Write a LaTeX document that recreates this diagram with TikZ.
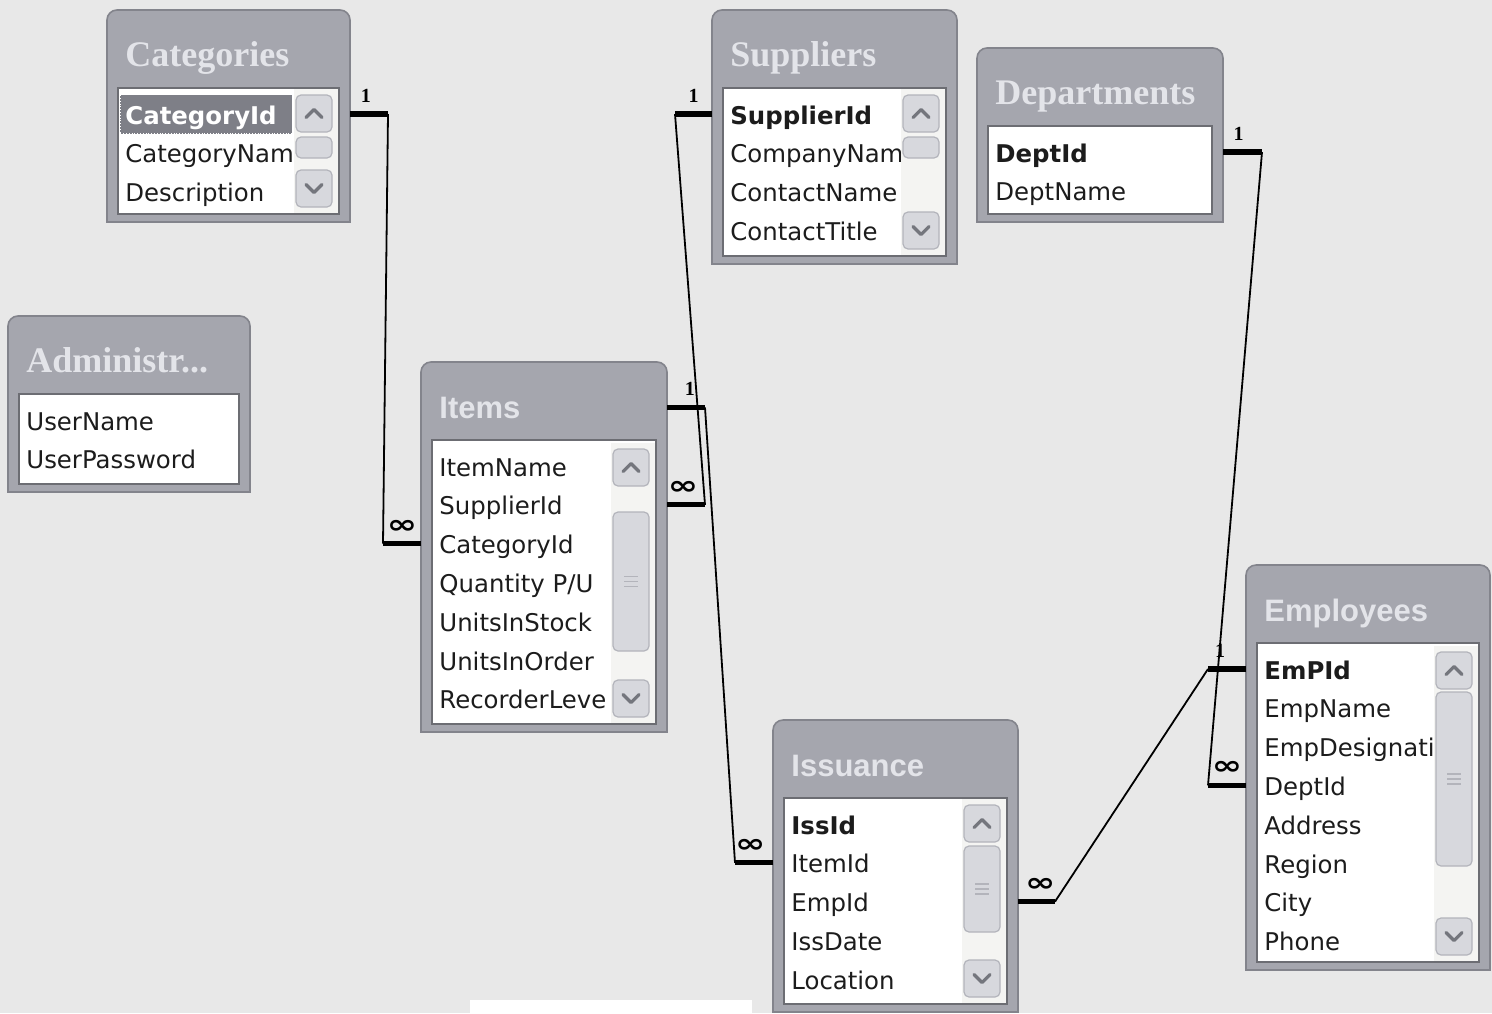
\documentclass[tikz,border=0pt]{standalone}
\usepackage{fontspec}
\usepackage{graphicx}
\usepackage{tikz}
\usetikzlibrary{positioning,fit}
\setmainfont{DejaVu Sans}
\newfontfamily\headserif{Liberation Serif}
\newfontfamily\headsans{Liberation Sans}

\definecolor{canvas}{HTML}{E8E8E8}
\definecolor{frame}{HTML}{A5A6AE}
\definecolor{frameline}{HTML}{83848C}
\definecolor{listline}{HTML}{6C6D73}
\definecolor{captext}{HTML}{E3E4E9}
\definecolor{fieldtext}{HTML}{1C1C1C}
\definecolor{selgray}{HTML}{7E7F87}
\definecolor{trackfill}{HTML}{F4F4F2}
\definecolor{btnfill}{HTML}{D7D8DD}
\definecolor{btnline}{HTML}{B3B4BB}
\definecolor{chevcol}{HTML}{74767D}

\tikzset{
  tableframe/.style={draw=frameline, fill=frame, line width=0.8pt, rounded corners=5pt, inner sep=0pt, outer sep=0pt},
  listbox/.style={draw=listline, fill=white, line width=0.7pt, inner sep=0pt},
  caption/.style={anchor=base west, inner sep=0pt, text=captext},
  serifcap/.style={caption, font=\headserif\bfseries\fontsize{18pt}{20pt}\selectfont},
  sanscap/.style={caption, font=\headsans\bfseries\fontsize{15.5pt}{18pt}\selectfont},
  field/.style={anchor=west, inner sep=0pt, text height=10pt, text depth=0pt, text=fieldtext,
    font=\fontsize{12.2pt}{14pt}\selectfont},
  attr/.style={},
  pkey/.style={font=\bfseries\fontsize{12.2pt}{14pt}\selectfont},
  pkeysel/.style={pkey, fill=selgray, draw=white, densely dotted, text=white, text width=81pt,
    inner xsep=2.5pt, minimum height=19.5pt, xshift=-2.5pt},
  track/.style={fill=trackfill},
  sbutton/.style={draw=btnline, fill=btnfill, rounded corners=2.5pt, inner sep=0pt, line width=0.6pt},
  chevron/.style={draw=chevcol, line width=1.6pt, line cap=round, line join=round},
  grip/.style={draw=btnline, line width=0.6pt},
  rel/.style={draw=black, line width=0.9pt},
  stub/.style={draw=black, line width=2.6pt},
  one/.style={font=\headserif\bfseries\fontsize{10pt}{10pt}\selectfont, inner sep=1pt, above=3.5pt},
  many/.style={font=\bfseries\fontsize{13pt}{13pt}\selectfont, inner sep=1pt, above=3pt}
}

\newcommand{\manysym}{\scalebox{1.4}[1]{∞}}

% name, left, top, right, bottom, caption style, caption, fields
\newcommand{\dbtable}[8]{%
  \node[tableframe, fit={(#2,#3) (#4,#5)}] (#1) {};
  \fill[frame] (#1.west) rectangle (#1.south east);
  \draw[draw=frameline, line width=0.8pt] ([yshift=3pt]#1.west) |- (#1.south east) -- ([yshift=3pt]#1.east);
  \node[#6] (#1-title) at (#2+18,#3+56) {#7};
  \node[listbox, fit={(#2+11,#3+78) (#4-11,#5-8)}] (#1-list) {};
  \foreach \s/\f [count=\i] in {#8}
    \node[field, \s] (#1-\i) at (#2+18,#3+104+38.8*\i-38.8) {\f};
}

% name, list right, list top, list bottom, thumb top, thumb bottom
\newcommand{\scrollbar}[6]{%
  \fill[track] (#2-45,#3+1) rectangle (#2-1,#4-1);
  \node[sbutton, fit={(#2-43,#3+7) (#2-7,#3+44)}] (#1-up) {};
  \node[sbutton, fit={(#2-43,#4-44) (#2-7,#4-7)}] (#1-down) {};
  \node[sbutton, fit={(#2-43,#5) (#2-7,#6)}] (#1-thumb) {};
  \draw[chevron] (#1-up.center) +(-8,4) -- +(0,-4) -- +(8,4);
  \draw[chevron] (#1-down.center) +(-8,-4) -- +(0,4) -- +(8,-4);
}

\begin{document}
\begin{tikzpicture}[x=0.5pt, y=-0.5pt]
  \fill[canvas] (0,0) rectangle (1492,1013);
  \useasboundingbox (0,0) rectangle (1492,1013);
  \fill[white] (470,1000) rectangle (752,1013);

  \dbtable{categories}{107}{10}{350}{222}{serifcap}{Categories}
    {pkeysel/CategoryId, attr/CategoryNam, attr/Description}
  \scrollbar{categories}{339}{88}{214}{137}{158}

  \dbtable{suppliers}{712}{10}{957}{264}{serifcap}{Suppliers}
    {pkey/SupplierId, attr/CompanyNam, attr/ContactName, attr/ContactTitle}
  \scrollbar{suppliers}{946}{88}{256}{137}{158}

  \dbtable{departments}{977}{48}{1223}{222}{serifcap}{Departments}
    {pkey/DeptId, attr/DeptName}

  \dbtable{admin}{8}{316}{250}{492}{serifcap}{Administr...}
    {attr/UserName, attr/UserPassword}

  \dbtable{items}{421}{362}{667}{732}{sanscap}{Items}
    {attr/ItemName, attr/SupplierId, attr/CategoryId, attr/{Quantity P/U},
     attr/UnitsInStock, attr/UnitsInOrder, attr/RecorderLeve}
  \scrollbar{items}{656}{442}{724}{512}{651}
  \foreach \d in {-5,0,5} \draw[grip] (items-thumb.center) +(-7,\d) -- +(7,\d);

  \dbtable{issuance}{773}{720}{1018}{1012}{sanscap}{Issuance}
    {pkey/IssId, attr/ItemId, attr/EmpId, attr/IssDate, attr/Location}
  \scrollbar{issuance}{1007}{798}{1004}{846}{932}
  \foreach \d in {-5,0,5} \draw[grip] (issuance-thumb.center) +(-7,\d) -- +(7,\d);

  \dbtable{employees}{1246}{565}{1490}{970}{sanscap}{Employees}
    {pkey/EmPId, attr/EmpName, attr/EmpDesignati, attr/DeptId, attr/Address,
     attr/Region, attr/City, attr/Phone}
  \scrollbar{employees}{1479}{645}{962}{692}{866}
  \foreach \d in {-5,0,5} \draw[grip] (employees-thumb.center) +(-7,\d) -- +(7,\d);

  \draw[stub] (categories.east |- categories-1) -- ++(38,0) node[one, pos=.42] {1} coordinate (r1a);
  \draw[stub] (items.west |- items-3) -- ++(-38,0) node[many, pos=.5] {\manysym} coordinate (r1b);
  \draw[rel] (r1a) -- (r1b);

  \draw[stub] (suppliers.west |- suppliers-1) -- ++(-37,0) node[one, pos=.5] {1} coordinate (r2a);
  \draw[stub] (items.east |- items-2) -- ++(38,0) node[many, pos=.42] {\manysym} coordinate (r2b);
  \draw[rel] (r2a) -- (r2b);

  \draw[stub] (items.east |- items-title) -- ++(38,0) node[one, pos=.6] {1} coordinate (r3a);
  \draw[stub] (issuance.west |- issuance-2) -- ++(-38,0) node[many, pos=.6] {\manysym} coordinate (r3b);
  \draw[rel] (r3a) -- (r3b);

  \draw[stub] (departments.east |- departments-1) -- ++(39,0) node[one, pos=.4] {1} coordinate (r4a);
  \draw[stub] (employees.west |- employees-4) -- ++(-38,0) node[many, pos=.5] {\manysym} coordinate (r4b);
  \draw[rel] (r4a) -- (r4b);

  \draw[stub] (employees.west |- employees-1) -- ++(-38,0) node[one, pos=.68] {1} coordinate (r5a);
  \draw[stub] (issuance.east |- issuance-3) -- ++(37,0) node[many, pos=.6] {\manysym} coordinate (r5b);
  \draw[rel] (r5a) -- (r5b);
\end{tikzpicture}
\end{document}
